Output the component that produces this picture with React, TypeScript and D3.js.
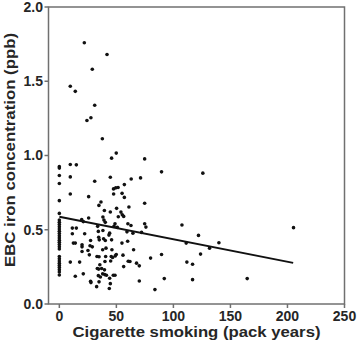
import React from "react";
import * as d3 from "d3";

const packYears: number[] = [
  0, 0, 0, 0, 0, 0, 0, 0, 0, 0, 0, 0, 0, 0, 0, 0, 0, 0, 0, 0, 0, 0, 0, 0, 0, 0, 0, 0, 0,
  21.9, 41.8, 28.9, 9.6, 14.0, 31.0, 27.7, 24.2, 37.7, 49.9, 45.8, 74.8, 89.6, 125.8,
  9.6, 14.9, 9.6, 44.7, 31, 71.2, 47.5, 49.5, 51.5, 57, 63, 9.6, 25.7, 47.6, 55, 57,
  74.8, 36.5, 34.7, 50.2, 61, 39.5, 44.7, 54, 55.2, 56.4, 51.7, 38.2, 39.1, 40.3,
  19.6, 21, 25.7, 11.4, 14.9, 11.4, 12.3, 14, 22.2, 19.9, 19.9, 19.9, 25.1, 26.3,
  27.4, 26.9, 28.9, 33.6, 34.2, 34.5, 35, 33, 34.8, 38.2, 38.8, 40.3, 40.9, 38,
  40.6, 44.1, 43.5, 45.8, 46.1, 45.5, 47.9, 48.8, 50.8, 49.9, 49, 46.7, 47.3, 60.1,
  59.3, 62.8, 64.5, 54.9, 59.9, 55.8, 56.4, 60.4, 61.9, 65.1, 67.7, 70.1, 70.1, 74.8,
  75.9, 72.1, 80, 83.8, 89.6, 92, 107.5, 111.2, 111.8, 116.8, 116.8, 122, 123.8,
  131.7, 139.9, 164.7, 205.3,
  9.6, 17.8, 14, 21, 27.4, 27.7, 32.7, 33.3, 34.5, 34.8, 37.1, 34.2, 36, 38, 39.8,
  41.3, 39.6, 44.1, 44.7, 43.8, 48.8, 45, 40, 35.5,
];

const ironPpb: number[] = [
  0.925, 0.915, 0.865, 0.811, 0.696, 0.61,
  0.565, 0.55, 0.535, 0.52, 0.505, 0.49, 0.475, 0.46, 0.445, 0.43, 0.415, 0.4, 0.385, 0.37,
  0.32, 0.305, 0.29, 0.275, 0.26, 0.245, 0.23, 0.215, 0.195,
  1.759, 1.68, 1.581, 1.466, 1.432, 1.338, 1.254, 1.236, 1.113, 1.016, 0.982, 0.977, 0.89, 0.881,
  0.939, 0.937, 0.856, 0.854, 0.827, 0.849, 0.775, 0.782, 0.785, 0.804, 0.842, 0.741, 0.723, 0.741, 0.745, 0.718,
  0.678, 0.687, 0.664, 0.644, 0.653, 0.63, 0.62, 0.619, 0.601, 0.59, 0.588, 0.586, 0.565, 0.55,
  0.568, 0.555, 0.579, 0.511, 0.511, 0.473, 0.41, 0.41, 0.473, 0.399, 0.385, 0.354, 0.36, 0.331,
  0.428, 0.392, 0.385, 0.523, 0.489, 0.45, 0.432, 0.32, 0.318, 0.495, 0.439, 0.428, 0.376, 0.365,
  0.32, 0.477, 0.464, 0.432, 0.365, 0.32, 0.523, 0.54, 0.516, 0.333, 0.324, 0.313, 0.194, 0.54,
  0.486, 0.529, 0.477, 0.41, 0.423, 0.329, 0.252, 0.288, 0.286, 0.365, 0.275, 0.257, 0.155, 0.54,
  0.518, 0.482, 0.309, 0.097, 0.333, 0.171, 0.532, 0.41, 0.282, 0.268, 0.164, 0.462, 0.336,
  0.376, 0.412, 0.171, 0.514,
  0.282, 0.282, 0.187, 0.203, 0.153, 0.144, 0.117, 0.239, 0.235, 0.149, 0.239, 0.191, 0.182, 0.203, 0.198,
  0.194, 0.23, 0.173, 0.137, 0.104, 0.194, 0.29, 0.286, 0.264,
];

const fitX: number[] = [0, 205];
const fitY: number[] = [0.588, 0.277];

const xTicks: number[] = [0, 50, 100, 150, 200, 250];
const yTicks: number[] = [0, 0.5, 1.0, 1.5, 2.0];

export default function App() {
  const W = 357;
  const H = 349;
  const left = 48.5, right = 344.5, top = 7, bottom = 304;
  const x = d3.scaleLinear().domain([-9.5, 250]).range([left, right]);
  const y = d3.scaleLinear().domain([0, 2]).range([bottom, top]);
  const line = d3.line<number>().x((_, i) => x(fitX[i])).y((d) => y(d));
  const font = "'Liberation Sans', Arial, sans-serif";
  const frame = "#707070";
  const txt = "#262626";
  return (
    <svg width={W} height={H} style={{ position: "absolute", left: 0, top: 0 }}>
      <rect x={0} y={0} width={W} height={H} fill="#fff" />
      <rect x={left} y={top} width={right - left} height={bottom - top} fill="none" stroke={frame} strokeWidth={1.5} />
      {yTicks.map((t) => (
        <g key={"y" + t}>
          <line x1={left - 4} x2={left} y1={y(t)} y2={y(t)} stroke={frame} strokeWidth={1.5} />
          <text x={43} y={y(t) + 4.8} textAnchor="end" fontFamily={font} fontWeight="bold" fontSize={14} fill={txt}>
            {t.toFixed(1)}
          </text>
        </g>
      ))}
      {xTicks.map((t) => (
        <g key={"x" + t}>
          <line x1={x(t)} x2={x(t)} y1={bottom} y2={bottom + 4} stroke={frame} strokeWidth={1.5} />
          <text x={x(t)} y={320.5} textAnchor="middle" fontFamily={font} fontWeight="bold" fontSize={14} fill={txt}>
            {t}
          </text>
        </g>
      ))}
      {packYears.map((px, i) => (
        <circle key={i} cx={x(px)} cy={y(ironPpb[i])} r={1.8} fill="#111" />
      ))}
      <path d={line(fitY) || ""} fill="none" stroke="#111" strokeWidth={2} />
      <text x={196.5} y={336.5} textAnchor="middle" fontFamily={font} fontWeight="bold" fontSize={15} fill={txt} textLength={248} lengthAdjust="spacingAndGlyphs">
        Cigarette smoking (pack years)
      </text>
      <text transform={`translate(15,150) rotate(-90)`} textAnchor="middle" fontFamily={font} fontWeight="bold" fontSize={15} fill={txt} textLength={234} lengthAdjust="spacingAndGlyphs">
        EBC iron concentration (ppb)
      </text>
    </svg>
  );
}
